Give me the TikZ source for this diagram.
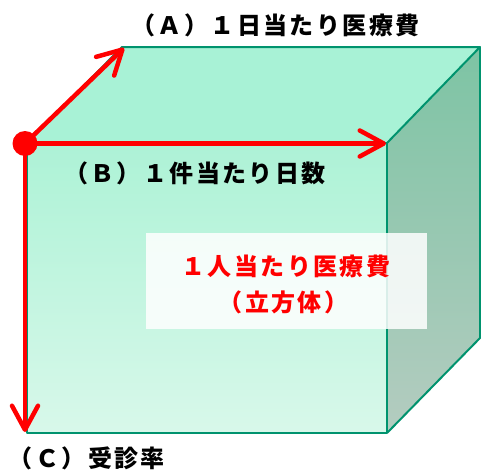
\documentclass[tikz,border=0pt]{standalone}
\usepackage{fontspec}
\newfontfamily\jp{Noto Sans CJK JP}[LetterSpace=10]
\usetikzlibrary{arrows.meta}
\definecolor{edgegreen}{HTML}{00936E}
\definecolor{topface}{HTML}{A8F2D6}
\definecolor{fronttop}{HTML}{ADF2D6}
\definecolor{frontbot}{HTML}{D8F8EA}
\definecolor{sidetop}{HTML}{7DC4A4}
\definecolor{sidebot}{HTML}{B4CCC0}
\definecolor{axisred}{HTML}{FF0000}
\tikzset{
  edgeline/.style={draw=edgegreen, line width=2pt, line join=round},
  axisarrow/.style={draw=axisred, line width=4.5pt, -{Straight Barb[length=24pt,width=26pt,line width=4.5pt,round]}},
  blacklabel/.style={font=\jp\bfseries\fontsize{24}{28}\selectfont, text=black, inner sep=0pt},
  redlabel/.style={font=\jp\bfseries\fontsize{24}{28}\selectfont, text=axisred, inner sep=0pt},
}
\begin{document}
\begin{tikzpicture}[x=1pt,y=-1pt]
\useasboundingbox (0,0) rectangle (481,471);
\coordinate (FTL) at (27,143);
\coordinate (FTR) at (387,143);
\coordinate (FBR) at (387,433);
\coordinate (FBL) at (27,433);
\coordinate (BTL) at (122,47);
\coordinate (BTR) at (480,47);
\coordinate (BBR) at (480,338);
% faces
\fill[topface] (FTL) -- (BTL) -- (BTR) -- (FTR) -- cycle;
\shade[top color=sidetop, bottom color=sidebot] (FTR) -- (BTR) -- (BBR) -- (FBR) -- cycle;
\shade[top color=fronttop, bottom color=frontbot] (FTL) rectangle (FBR);
% edges
\draw[edgeline] (FTL) -- (BTL) -- (BTR) -- (FTR) -- cycle;
\draw[edgeline] (BTR) -- (BBR) -- (FBR);
\draw[edgeline] (FTL) rectangle (FBR);
% label box
\node[fill=white, fill opacity=0.85, minimum width=281pt, minimum height=96pt, inner sep=0pt] (box) at (286.5,281) {};
\node[redlabel] (total) at (286,266) {１人当たり医療費};
\node[redlabel] (cube) at (283.5,302) {（立方体）};
% axes
\coordinate (O) at (25,143.5);
\coordinate (tipA) at (124,48);
\coordinate (tipB) at (386,143.5);
\coordinate (tipC) at (25,432);
\draw[axisarrow] (O) -- (tipA);
\draw[axisarrow] (O) -- (tipB);
\draw[axisarrow] (O) -- (tipC);
\fill[axisred] (O) circle (12.5pt);
% labels
\node[blacklabel] (labA) at (275.5,25) {（Ａ）１日当たり医療費};
\node[blacklabel] (labB) at (195,173) {（Ｂ）１件当たり日数};
\node[blacklabel] (labC) at (87,458) {（Ｃ）受診率};
\end{tikzpicture}
\end{document}
